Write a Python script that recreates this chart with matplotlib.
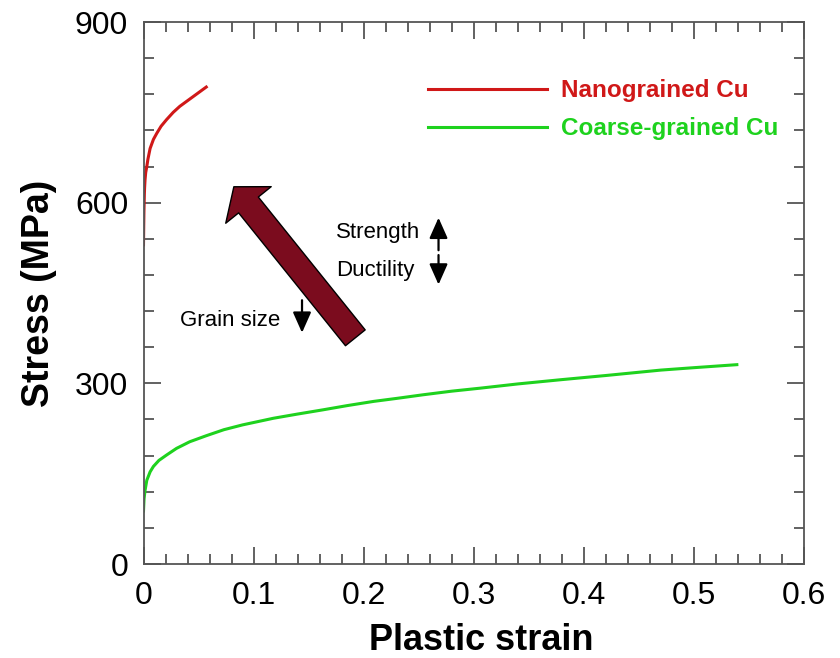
import matplotlib.pyplot as plt
from matplotlib.patches import FancyArrowPatch
from matplotlib.ticker import MultipleLocator

plt.rcParams['font.family'] = ['Liberation Sans', 'DejaVu Sans']

# Stress-strain curves (plastic strain, stress in MPa)
nano_strain = [0.0, 0.0002, 0.0004, 0.0008, 0.001, 0.0014, 0.002, 0.003, 0.004, 0.006,
               0.009, 0.012, 0.016, 0.021, 0.027, 0.033, 0.039, 0.045, 0.051, 0.057]
nano_stress = [530, 560, 585, 615, 625, 638, 650, 660, 672, 690,
               705, 715, 727, 738, 750, 760, 768, 776, 784, 792]

coarse_strain = [0.0, 0.0005, 0.0014, 0.003, 0.006, 0.009, 0.014, 0.021, 0.03, 0.042,
                 0.057, 0.073, 0.09, 0.118, 0.14, 0.163, 0.185, 0.209, 0.23, 0.254,
                 0.28, 0.306, 0.34, 0.379, 0.42, 0.470, 0.50, 0.539]
coarse_stress = [88, 108, 122, 139, 153, 162, 172, 181, 192, 203,
                 213, 223, 231, 242, 249, 256, 263, 270, 275, 281,
                 287, 292, 299, 306, 313, 322, 326, 331]

labels = ['Nanograined Cu', 'Coarse-grained Cu']
colors = ['#d01818', '#1ed21e']

xticks = [0, 0.1, 0.2, 0.3, 0.4, 0.5, 0.6]
xticklabels = ['0', '0.1', '0.2', '0.3', '0.4', '0.5', '0.6']
yticks = [0, 300, 600, 900]
yticklabels = ['0', '300', '600', '900']

fig = plt.figure(figsize=(8.4, 6.58), dpi=100)
ax = fig.add_axes([143.5 / 840, 1 - 564 / 658, (804 - 143.5) / 840, (564 - 22) / 658])

ax.plot(nano_strain, nano_stress, color=colors[0], lw=2.2, label=labels[0])
ax.plot(coarse_strain, coarse_stress, color=colors[1], lw=2.2, label=labels[1])

ax.set_xlim(0, 0.6)
ax.set_ylim(0, 900)
ax.set_xticks(xticks)
ax.set_xticklabels(xticklabels)
ax.set_yticks(yticks)
ax.set_yticklabels(yticklabels)
ax.xaxis.set_minor_locator(MultipleLocator(0.02))
ax.yaxis.set_minor_locator(MultipleLocator(60))

for s in ax.spines.values():
    s.set_color('#555555')
    s.set_linewidth(1.3)
ax.tick_params(which='both', direction='in', top=True, right=True, color='#555555', width=1.3)
ax.tick_params(which='major', length=12, labelsize=23)
ax.tick_params(axis='x', which='major', pad=12)
ax.tick_params(axis='y', which='major', pad=11)
ax.tick_params(which='minor', length=7)

ax.set_xlabel('Plastic strain', fontsize=26, fontweight='bold', labelpad=9)
ax.xaxis.label.set_x(0.512)
ax.set_ylabel('Stress (MPa)', fontsize=27, fontweight='bold', labelpad=13)

leg = ax.legend(loc='upper left', bbox_to_anchor=(416 / 840, 1 - 67 / 658),
                bbox_transform=fig.transFigure, frameon=False, borderpad=0,
                handlelength=4.9, handletextpad=0.55, labelspacing=0.62,
                prop={'weight': 'bold', 'size': 17.5}, labelcolor='linecolor')

# Big arrow: decreasing grain size moves up-left
big = FancyArrowPatch((0.194, 372), (0.0805, 630),
                      arrowstyle='simple,head_width=3.0,head_length=1.2,tail_width=1.3',
                      mutation_scale=14, facecolor='#7b0c1e', edgecolor='black', lw=1.0)
ax.add_patch(big)

ax.text(0.175, 551, 'Strength', fontsize=16, va='center', ha='left')
ax.text(0.175, 488, 'Ductility', fontsize=16, va='center', ha='left')
ax.text(0.033, 405, 'Grain size', fontsize=16, va='center', ha='left')

small = dict(arrowstyle='-|>,head_width=0.4,head_length=0.9', color='black', lw=1.6,
             mutation_scale=14, shrinkA=0, shrinkB=0)
ax.annotate('', xy=(0.268, 575), xytext=(0.268, 521), arrowprops=small)
ax.annotate('', xy=(0.268, 464), xytext=(0.268, 513), arrowprops=small)
ax.annotate('', xy=(0.144, 384), xytext=(0.144, 438), arrowprops=small)

fig.savefig('out.png', dpi=100)
